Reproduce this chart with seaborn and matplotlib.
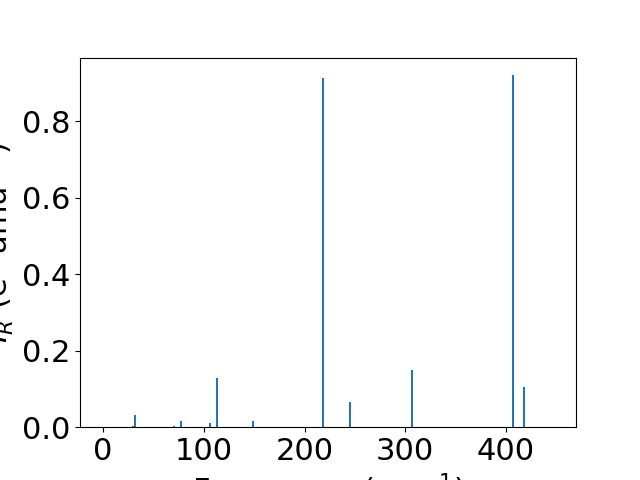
import matplotlib
matplotlib.use("Agg")
import matplotlib.pyplot as plt
import seaborn as sns

# frequências (cm^-1) e intensidades
freqs = [29.5, 31.5, 70.6, 77.6, 106.5, 112.8, 149.3, 217.9, 245.5, 306.5, 407.0, 418.0]
intens = [0.0035, 0.032, 0.003, 0.0166, 0.0113, 0.129, 0.0166, 0.912, 0.065, 0.149, 0.920, 0.1046]

plt.rcParams["font.size"] = 20

fig, ax = plt.subplots(figsize=(6.4, 4.8), dpi=100)
sns.barplot(x=freqs, y=intens, native_scale=True, width=1.0, color="#1f77b4",
            saturation=1, linewidth=0, ax=ax)

ax.set_xlim(-23, 469.6)
ax.set_xlabel("Frequency (cm$^{-1}$)", fontsize=22)
ax.set_ylabel("$I_R$ (e$^2$ amu$^{-1}$)", fontsize=22)
ax.tick_params(labelsize=22)

plt.savefig("out.png", dpi=100)
plt.close()
